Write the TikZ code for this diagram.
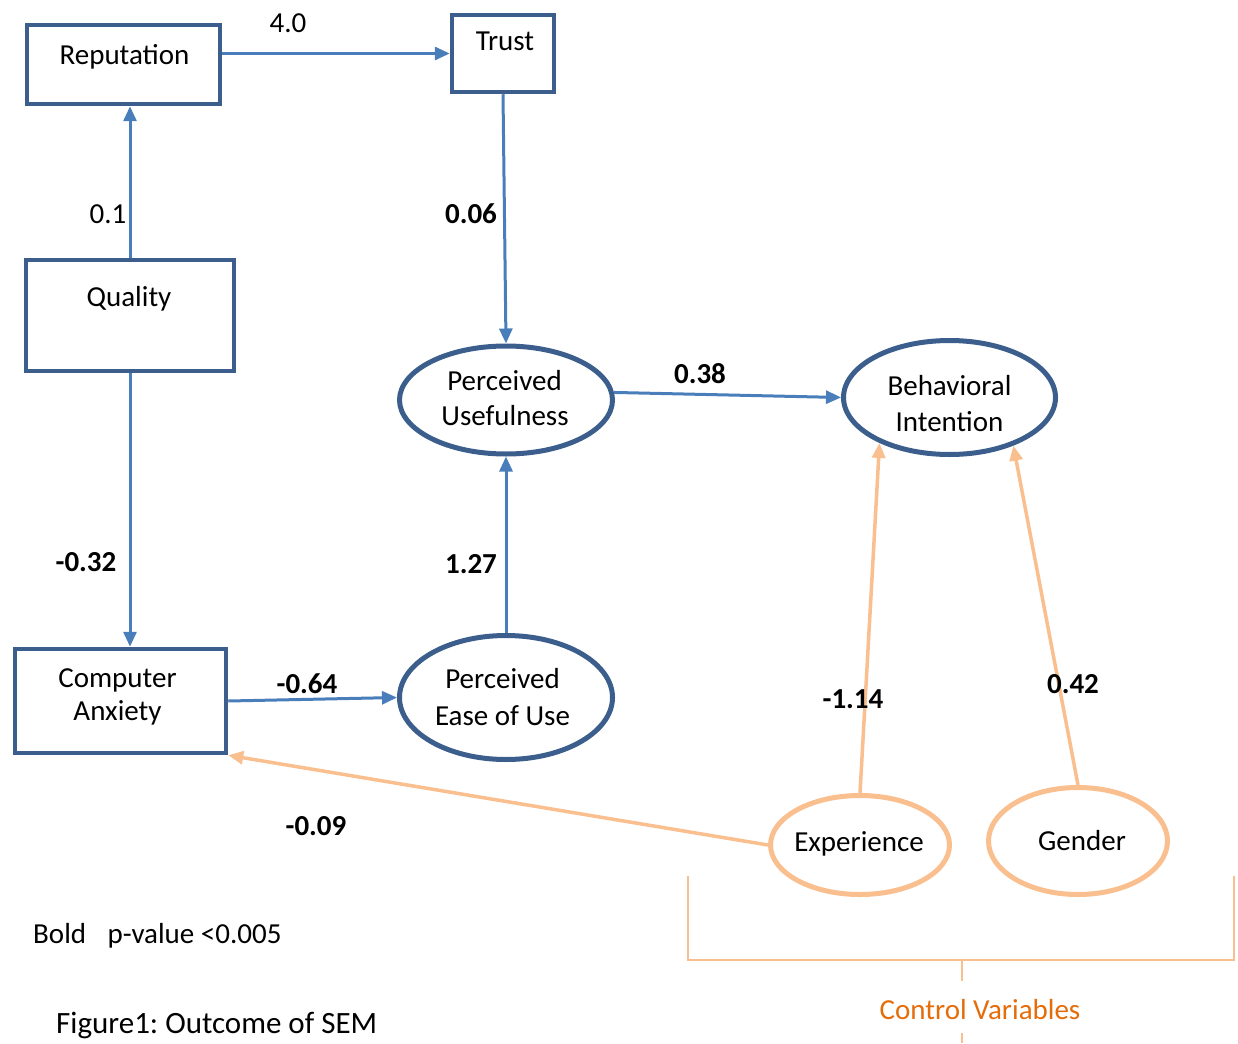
\documentclass[tikz,border=0pt]{standalone}
\usepackage{fontspec}
\setmainfont{Carlito}
\usetikzlibrary{arrows.meta,shapes.geometric}
\definecolor{boxblue}{HTML}{3B5E8C}
\definecolor{arrblue}{HTML}{4A7EBB}
\definecolor{lorange}{HTML}{F9BF8F}
\definecolor{dorange}{HTML}{E46C0A}
\frenchspacing
\begin{document}
\begin{tikzpicture}[x=1pt,y=-1pt,
  every node/.style={font=\fontsize{29}{35}\selectfont},
  box/.style={draw=boxblue,line width=4.5pt,rectangle,inner sep=0pt},
  lat/.style={draw=boxblue,line width=5pt,ellipse,inner sep=0pt},
  ctrl/.style={draw=lorange,line width=5pt,ellipse,inner sep=0pt},
  txt/.style={anchor=base,inner sep=0pt},
  val/.style={anchor=base,inner sep=0pt,font=\fontsize{29}{35}\selectfont\bfseries},
  blarrow/.style={draw=arrblue,line width=3pt,-{Triangle[length=15pt,width=13pt]}},
  orarrow/.style={draw=lorange,line width=3.5pt,-{Triangle[length=15pt,width=13pt]}},
  brace/.style={draw=lorange,line width=2pt}]
\useasboundingbox (0,0) rectangle (1238,1043);

% boxes
\node[box,minimum width=193pt,minimum height=79pt] (rep) at (123.5,64.5) {};
\node[box,minimum width=102pt,minimum height=77pt] (trust) at (503,53.5) {};
\node[box,minimum width=208pt,minimum height=111pt] (quality) at (130,315.5) {};
\node[box,minimum width=211pt,minimum height=104pt] (ca) at (120.5,701) {};

% latent ellipses
\node[lat,minimum width=213pt,minimum height=108pt] (pu) at (506,400) {};
\node[lat,minimum width=212pt,minimum height=114pt] (bi) at (949.5,397.5) {};
\node[lat,minimum width=213pt,minimum height=124pt] (peou) at (506,697.5) {};

% control variables
\node[ctrl,minimum width=179pt,minimum height=99pt] (exp) at (860,845) {};
\node[ctrl,minimum width=179pt,minimum height=107pt] (gen) at (1078,841) {};

% texts
\node[txt] (tRep) at (124.5,65) {Reputation};
\node[txt] (tTrust) at (505,51) {Trust};
\node[txt] (tQual) at (129,306) {Quality};
\node[txt] (tCA1) at (117.5,687) {Computer};
\node[txt] (tCA2) at (117.5,720) {Anxiety};
\node[txt] (tPU1) at (504.5,390) {Perceived};
\node[txt] (tPU2) at (505,425) {Usefulness};
\node[txt] (tBI1) at (949.5,395) {Behavioral};
\node[txt] (tBI2) at (949.5,431) {Intention};
\node[txt] (tPE1) at (502.5,688) {Perceived};
\node[txt] (tPE2) at (502.5,725) {Ease of Use};
\node[txt] (tExp) at (859,851) {Experience};
\node[txt] (tGen) at (1082,850) {Gender};

% connectors
\draw[blarrow] (rep.east |- trust.west) -- (trust.west);
\draw[blarrow] (quality.north) -- (quality.north |- rep.south);
\draw[blarrow] (trust.south) -- (pu.north);
\draw[blarrow] (quality.south) -- (quality.south |- ca.north);
\draw[blarrow] (pu.4) -- (bi.west);
\draw[blarrow] (peou.north) -- (pu.south);
\draw[blarrow] (ca.east) -- (peou.west);
\draw[orarrow] (exp.west) -- (ca.south east);
\draw[orarrow] (exp.north) -- (bi.213);
\draw[orarrow] (gen.north) -- (bi.-37);

% path values
\node[txt] (v1) at (288,33) {4.0};
\node[txt] (v2) at (108,223) {0.1};
\node[val] (v3) at (471,223) {0.06};
\node[val] (v4) at (86,571) {-0.32};
\node[val] (v5) at (700,383) {0.38};
\node[val] (v6) at (471,573) {1.27};
\node[val] (v7) at (307,693) {-0.64};
\node[val] (v8) at (316,835) {-0.09};
\node[val] (v9) at (853,708) {-1.14};
\node[val] (v10) at (1073,693) {0.42};

% bracket for control variables
\draw[brace] (688,876) -- (688,960) -- (1234,960) -- (1234,876);
\draw[brace] (962,960) -- (962,981);
\draw[brace] (962,1033) -- (962,1043);
\node[txt,text=dorange] (cv) at (980,1019) {Control Variables};

% notes
\node[txt,anchor=base west,font=\fontsize{29}{35}\selectfont] (note) at (33,943) {Bold\hspace{15pt} p-value <0.005};
\node[txt,anchor=base west,font=\fontsize{31}{37}\selectfont] (cap) at (56,1033) {Figure1: Outcome of SEM};
\end{tikzpicture}
\end{document}
